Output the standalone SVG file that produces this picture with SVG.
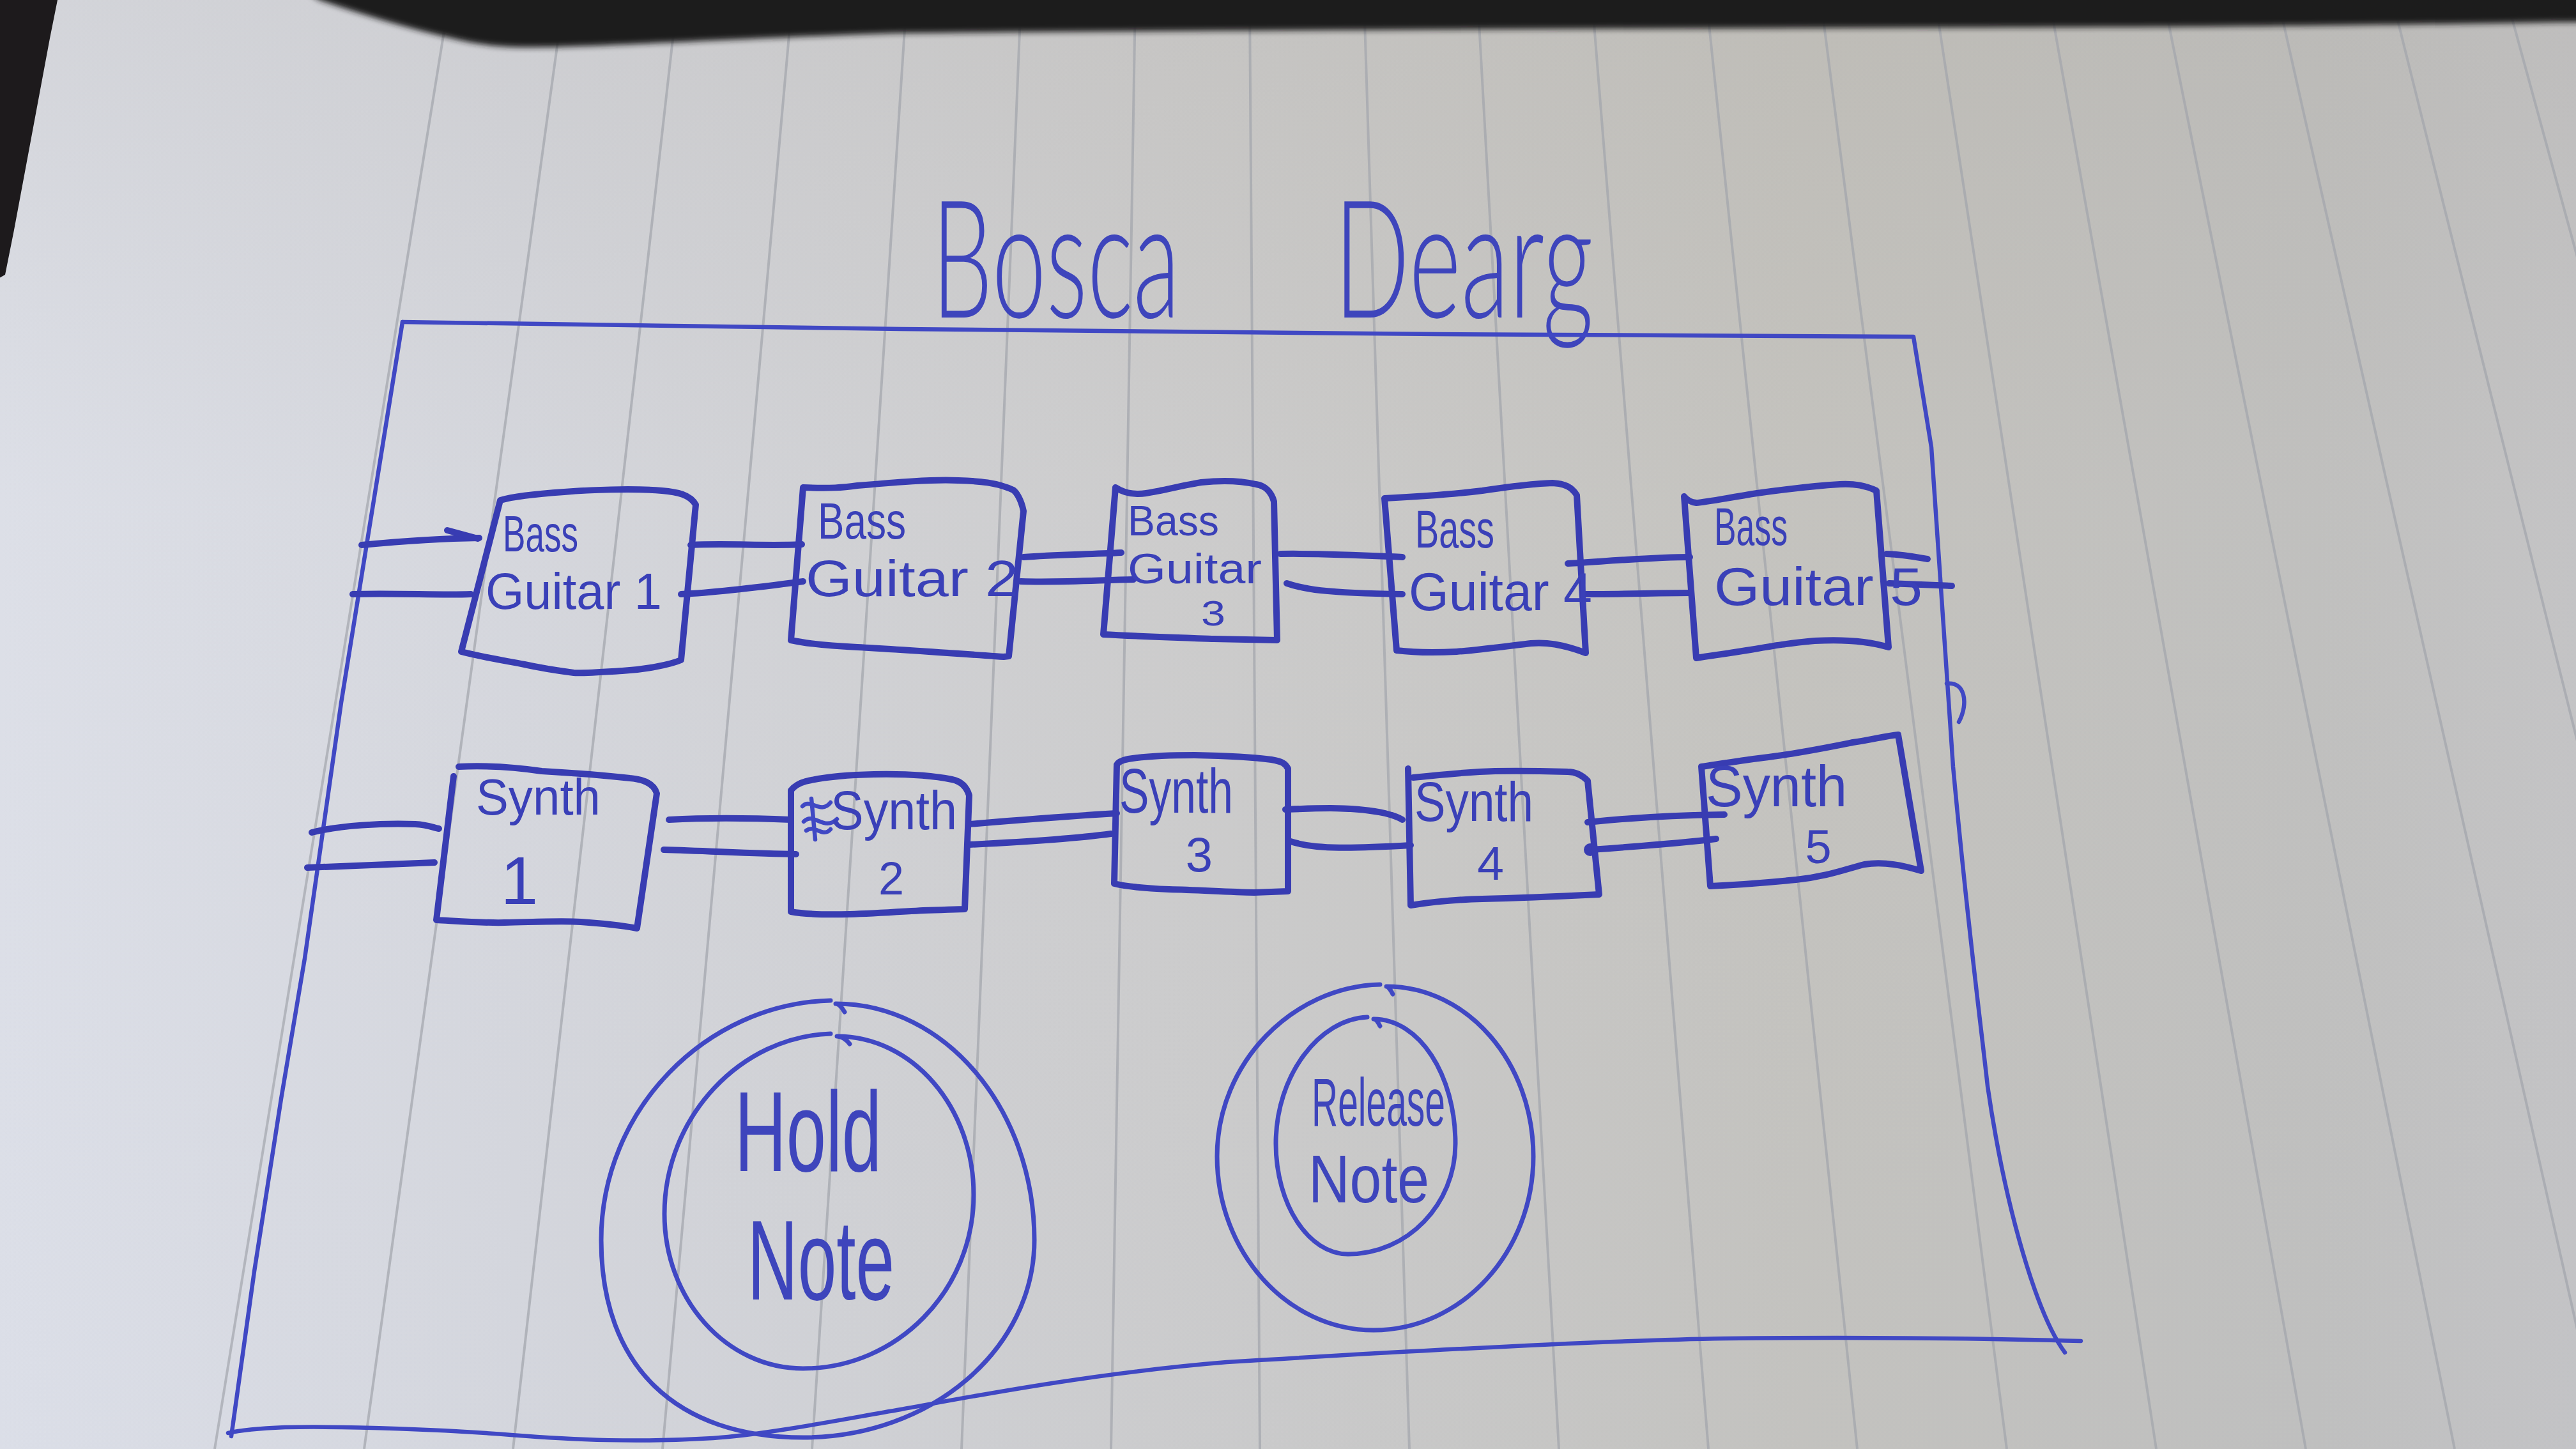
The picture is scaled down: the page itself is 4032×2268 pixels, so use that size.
<svg xmlns="http://www.w3.org/2000/svg" width="4032" height="2268" viewBox="0 0 4032 2268">
  <defs>
    <linearGradient id="paper" x1="0" y1="0" x2="1" y2="0">
      <stop offset="0" stop-color="#e0e3ec"/>
      <stop offset="0.2" stop-color="#d8dae1"/>
      <stop offset="0.45" stop-color="#cfcfd0"/>
      <stop offset="0.7" stop-color="#c6c5c1"/>
      <stop offset="0.9" stop-color="#c2c2c1"/>
      <stop offset="1" stop-color="#c6c6c8"/>
    </linearGradient>
    <linearGradient id="paperShade" x1="0" y1="0" x2="0" y2="1">
      <stop offset="0" stop-color="#9c968a" stop-opacity="0.18"/>
      <stop offset="0.35" stop-color="#9c968a" stop-opacity="0.05"/>
      <stop offset="1" stop-color="#8f94a0" stop-opacity="0.06"/>
    </linearGradient>
    <filter id="soft" x="-5%" y="-50%" width="110%" height="200%">
      <feGaussianBlur stdDeviation="5"/>
    </filter>
    <style>
      .rule { stroke: #a2a5ac; stroke-width: 4; opacity: 0.7; fill: none; }
      .box  { fill: none; stroke: #383cb2; stroke-width: 10; stroke-linecap: round; stroke-linejoin: round; }
      .wire { fill: none; stroke: #383cb2; stroke-width: 10; stroke-linecap: round; stroke-linejoin: round; }
      .pen  { fill: none; stroke: #4048c4; stroke-width: 6.5; stroke-linecap: round; stroke-linejoin: round; }
      .ring { fill: none; stroke: #4048c4; stroke-width: 7; stroke-linecap: round; stroke-linejoin: round; }
      .lbl  { fill: #3a40b8; font-family: "Liberation Sans", Arial, sans-serif; font-weight: 400; }
      .big  { fill: #3e45bc; font-family: "Liberation Sans", Arial, sans-serif; font-weight: 400; }
      .head { fill: #3e45bc; font-family: Lato, "Liberation Sans", sans-serif; font-weight: 300; }
    </style>
  </defs>

  <!-- paper sheet -->
  <rect x="0" y="0" width="4032" height="2268" fill="url(#paper)"/>
  <rect x="0" y="0" width="4032" height="2268" fill="url(#paperShade)"/>

  <!-- ruled lines, converging slightly towards the top -->
  <g id="ruling" class="rule">
    <line x1="703" y1="0" x2="336" y2="2268"/>
    <line x1="882" y1="0" x2="570" y2="2268"/>
    <line x1="1060" y1="0" x2="803" y2="2268"/>
    <line x1="1240" y1="0" x2="1037" y2="2268"/>
    <line x1="1419" y1="0" x2="1271" y2="2268"/>
    <line x1="1598" y1="0" x2="1505" y2="2268"/>
    <line x1="1777" y1="0" x2="1739" y2="2268"/>
    <line x1="1956" y1="0" x2="1972" y2="2268"/>
    <line x1="2135" y1="0" x2="2206" y2="2268"/>
    <line x1="2313" y1="0" x2="2440" y2="2268"/>
    <line x1="2492" y1="0" x2="2674" y2="2268"/>
    <line x1="2671" y1="0" x2="2907" y2="2268"/>
    <line x1="2850" y1="0" x2="3141" y2="2268"/>
    <line x1="3029" y1="0" x2="3375" y2="2268"/>
    <line x1="3208" y1="0" x2="3609" y2="2268"/>
    <line x1="3387" y1="0" x2="3842" y2="2268"/>
    <line x1="3566" y1="0" x2="4076" y2="2268"/>
    <line x1="3745" y1="0" x2="4310" y2="2268"/>
    <line x1="3924" y1="0" x2="4544" y2="2268"/>
  </g>

  <!-- desk showing past the paper edges -->
  <g id="desk" fill="#1d1a1c">
    <path filter="url(#soft)" d="M470,-20 L500,0 C560,20 640,45 700,58 C740,68 770,74 830,74 C950,73 1150,60 1400,52 C2000,46 2800,44 3400,42 C3700,40 3900,36 4060,34 L4060,-20 Z"/>
    <path d="M-10,-10 L92,-10 L78,60 L50,210 L22,360 L8,430 L-10,440 Z"/>
  </g>

  <!-- title, underlined by the top edge of the panel -->
  <g id="title">
    <text class="head" y="497" font-size="257"><tspan x="1458" textLength="389" lengthAdjust="spacingAndGlyphs">Bosca</tspan> <tspan x="2088" textLength="406" lengthAdjust="spacingAndGlyphs">Dearg</tspan></text>
  </g>

  <!-- panel outline -->
  <g id="panel" class="pen">
    <path d="M630,504 C1100,512 1800,520 2250,523 C2600,525 2850,526 2995,527 L3023,700 L3057,1200 C3080,1450 3100,1600 3111,1700 C3140,1900 3190,2060 3232,2117"/>
    <path d="M3257,2099 C3100,2094 2874,2093 2700,2095 C2500,2098 2200,2115 1920,2132 C1700,2150 1500,2190 1410,2206 C1300,2225 1200,2245 1116,2251 C1000,2258 900,2254 800,2246 C700,2238 550,2232 446,2234 C400,2236 370,2240 357,2243"/>
    <path d="M630,504 L534,1100 L477,1500 L440,1720 L398,1990 L362,2248"/>
    <path d="M3047,1070 C3075,1066 3082,1100 3066,1130"/>
  </g>

  <!-- signal wires between the units -->
  <g id="connectors" class="wire">
    <path d="M566,853 C620,848 680,843 750,842"/>
    <path d="M700,830 L748,843"/>
    <path d="M552,930 C620,928 690,932 737,930"/>
    <path d="M1081,853 C1140,850 1200,855 1255,852"/>
    <path d="M1066,930 C1110,928 1160,923 1257,910"/>
    <path d="M1602,872 C1650,868 1700,868 1755,865"/>
    <path d="M1598,910 C1660,912 1720,908 1774,907"/>
    <path d="M2004,867 C2080,866 2150,870 2195,872"/>
    <path d="M2014,913 C2040,922 2070,928 2195,930"/>
    <path d="M2454,882 C2520,878 2590,872 2645,872"/>
    <path d="M2482,930 C2540,930 2600,928 2645,928"/>
    <path d="M2953,867 C2980,868 3000,872 3017,875"/>
    <path d="M2957,913 C3000,915 3030,916 3055,917"/>

    <path d="M488,1303 C530,1292 600,1288 650,1290 C670,1291 680,1296 687,1297"/>
    <path d="M481,1358 C560,1355 620,1352 680,1350"/>
    <path d="M1047,1283 C1100,1280 1170,1280 1238,1283"/>
    <path d="M1039,1330 C1110,1332 1180,1336 1246,1337"/>
    <path d="M1517,1290 C1600,1283 1680,1277 1748,1273"/>
    <path d="M1517,1322 C1600,1318 1680,1313 1739,1305"/>
    <path d="M2012,1267 C2060,1265 2120,1262 2168,1273 C2180,1276 2190,1280 2195,1283"/>
    <path d="M2020,1317 C2060,1330 2120,1328 2208,1323"/>
    <path d="M2485,1287 C2550,1280 2620,1276 2699,1275"/>
    <path d="M2489,1330 C2560,1325 2630,1320 2686,1313"/>
    <circle cx="2489" cy="1330" r="10" fill="#383cb2" stroke="none"/>
  </g>

  <!-- bass guitar row -->
  <g id="bass-guitar-1">
    <path class="box" d="M783,783 C800,778 840,773 883,770 C920,767 990,764 1036,768 C1060,770 1080,774 1089,790 L1066,1033 C1050,1040 1010,1048 974,1050 C940,1052 910,1054 898,1053 C860,1048 830,1042 821,1040 C790,1034 752,1028 722,1020 L783,783 Z"/>
    <text class="lbl" font-size="79"><tspan x="787" y="863" textLength="118" lengthAdjust="spacingAndGlyphs">Bass</tspan>
      <tspan x="760" y="953" textLength="276" lengthAdjust="spacingAndGlyphs">Guitar 1</tspan></text>
  </g>
  <g id="bass-guitar-2">
    <path class="box" d="M1257,763 L1238,1002 C1265,1008 1300,1011 1342,1013 C1400,1016 1456,1020 1571,1028 L1579,1027 L1602,800 C1598,780 1590,770 1586,767 C1560,755 1533,753 1500,752 C1460,750 1400,755 1342,760 C1320,763 1300,765 1257,763 Z"/>
    <text class="lbl" font-size="80"><tspan x="1280" y="843" textLength="138" lengthAdjust="spacingAndGlyphs">Bass</tspan>
      <tspan x="1261" y="933" textLength="333" lengthAdjust="spacingAndGlyphs">Guitar 2</tspan></text>
  </g>
  <g id="bass-guitar-3">
    <path class="box" d="M1746,763 L1727,993 C1780,996 1841,998 1900,1000 L1999,1002 L1994,785 C1990,770 1980,760 1966,758 C1940,752 1908,752 1880,755 C1850,760 1820,768 1794,772 C1775,775 1760,772 1746,763 Z"/>
    <text class="lbl" font-size="66"><tspan x="1765" y="838" textLength="143" lengthAdjust="spacingAndGlyphs">Bass</tspan>
      <tspan x="1765" y="913" textLength="210" lengthAdjust="spacingAndGlyphs">Guitar</tspan>
      <tspan x="1880" y="979" font-size="55" textLength="38" lengthAdjust="spacingAndGlyphs">3</tspan></text>
  </g>
  <g id="bass-guitar-4">
    <path class="box" d="M2167,780 L2186,1018 C2210,1021 2243,1022 2280,1020 C2320,1017 2370,1010 2396,1007 C2420,1005 2444,1008 2482,1022 L2468,775 C2460,762 2449,757 2430,756 C2400,757 2360,762 2320,768 C2280,773 2224,777 2167,780 Z"/>
    <text class="lbl" font-size="83"><tspan x="2215" y="857" textLength="124" lengthAdjust="spacingAndGlyphs">Bass</tspan>
      <tspan x="2205" y="955" textLength="287" lengthAdjust="spacingAndGlyphs">Guitar 4</tspan></text>
  </g>
  <g id="bass-guitar-5">
    <path class="box" d="M2636,777 L2655,1030 C2680,1026 2703,1023 2740,1017 C2780,1010 2798,1007 2840,1003 C2894,1000 2930,1005 2956,1013 L2937,768 C2920,760 2904,757 2880,758 C2846,760 2800,765 2750,772 C2700,780 2670,786 2655,787 C2645,786 2640,782 2636,777 Z"/>
    <text class="lbl" font-size="83"><tspan x="2683" y="853" textLength="115" lengthAdjust="spacingAndGlyphs">Bass</tspan>
      <tspan x="2683" y="947" textLength="326" lengthAdjust="spacingAndGlyphs">Guitar 5</tspan></text>
  </g>

  <!-- synth row -->
  <g id="synth-1">
    <path class="box" d="M710,1215 L683,1440 C720,1442 760,1445 790,1444 C840,1443 880,1441 909,1443 C940,1445 970,1448 997,1453 L1028,1242 C1024,1228 1010,1220 986,1218 C950,1214 900,1210 848,1207 C800,1200 760,1198 718,1200"/>
    <text class="lbl" font-size="80"><tspan x="745" y="1275" textLength="195" lengthAdjust="spacingAndGlyphs">Synth</tspan>
      <tspan x="813" y="1415" font-size="105" text-anchor="middle">1</tspan></text>
  </g>
  <g id="synth-2">
    <path class="box" d="M1238,1237 L1238,1427 C1260,1431 1292,1432 1330,1431 C1368,1430 1410,1427 1445,1425 C1480,1424 1500,1423 1510,1423 L1517,1245 C1512,1228 1500,1222 1490,1220 C1460,1214 1420,1211 1368,1212 C1320,1213 1290,1216 1261,1223 C1250,1226 1242,1232 1238,1237 Z"/>
    <path class="pen" stroke-width="5" d="M1256,1262 C1268,1248 1284,1276 1300,1256 M1258,1286 C1274,1270 1290,1302 1310,1282 M1270,1250 L1276,1314 M1262,1300 C1276,1290 1288,1312 1300,1298"/>
    <text class="lbl" font-size="85"><tspan x="1300" y="1298" textLength="198" lengthAdjust="spacingAndGlyphs">Synth</tspan>
      <tspan x="1395" y="1400" font-size="72" text-anchor="middle">2</tspan></text>
  </g>
  <g id="synth-3">
    <path class="box" d="M1748,1197 L1744,1383 C1760,1387 1784,1390 1830,1392 C1873,1393 1920,1396 1963,1397 L2016,1395 L2016,1203 C2012,1195 2007,1192 1990,1189 C1960,1185 1920,1183 1870,1182 C1830,1182 1790,1184 1766,1188 C1756,1190 1750,1193 1748,1197 Z"/>
    <text class="lbl" font-size="98"><tspan x="1752" y="1272" textLength="178" lengthAdjust="spacingAndGlyphs">Synth</tspan>
      <tspan x="1877" y="1364" font-size="76" text-anchor="middle">3</tspan></text>
  </g>
  <g id="synth-4">
    <path class="box" d="M2204,1203 L2208,1417 C2240,1412 2275,1408 2320,1407 C2364,1406 2440,1403 2503,1400 L2485,1222 C2475,1212 2465,1208 2454,1208 C2420,1207 2380,1206 2340,1207 C2300,1208 2260,1212 2212,1217"/>
    <text class="lbl" font-size="88"><tspan x="2214" y="1285" textLength="186" lengthAdjust="spacingAndGlyphs">Synth</tspan>
      <tspan x="2333" y="1377" font-size="75" text-anchor="middle">4</tspan></text>
  </g>
  <g id="synth-5">
    <path class="box" d="M2663,1200 L2677,1387 C2720,1385 2760,1382 2811,1377 C2860,1372 2890,1360 2918,1353 C2950,1348 2980,1355 3007,1363 L2971,1150 C2950,1152 2930,1158 2900,1162 C2860,1170 2811,1180 2760,1186 C2720,1191 2690,1196 2663,1200 Z"/>
    <text class="lbl" font-size="90"><tspan x="2670" y="1262" textLength="221" lengthAdjust="spacingAndGlyphs">Synth</tspan>
      <tspan x="2846" y="1351" font-size="74" text-anchor="middle">5</tspan></text>
  </g>

  <!-- note buttons -->
  <g id="hold-note">
    <path class="ring" d="M1322,1584 C1316,1574 1312,1571 1308,1571 C1480,1571 1619,1737 1619,1941 C1619,2112 1457,2250 1257,2250 C1060,2250 941,2140 941,1941 C941,1737 1105,1571 1300,1566"/>
    <path class="ring" d="M1330,1634 C1322,1624 1316,1622 1310,1622 C1428,1622 1524,1733 1524,1870 C1524,2020 1404,2142 1257,2142 C1137,2142 1040,2034 1040,1900 C1040,1747 1161,1622 1300,1618"/>
    <text class="big" font-size="178"><tspan x="1150" y="1833" textLength="230" lengthAdjust="spacingAndGlyphs">Hold</tspan>
      <tspan x="1170" y="2034" textLength="230" lengthAdjust="spacingAndGlyphs">Note</tspan></text>
  </g>
  <g id="release-note">
    <path class="ring" d="M2180,1556 C2176,1548 2172,1544 2170,1544 C2297,1544 2400,1663 2400,1810 C2400,1960 2288,2082 2150,2082 C2015,2082 1905,1960 1905,1810 C1905,1663 2024,1544 2160,1541"/>
    <path class="ring" d="M2160,1606 C2156,1598 2153,1595 2150,1595 C2221,1595 2278,1682 2278,1790 C2278,1885 2203,1963 2110,1963 C2048,1963 1997,1885 1997,1790 C1997,1682 2066,1595 2140,1592"/>
    <text class="big" font-size="106"><tspan x="2053" y="1762" textLength="209" lengthAdjust="spacingAndGlyphs">Release</tspan>
      <tspan x="2048" y="1882" textLength="189" lengthAdjust="spacingAndGlyphs">Note</tspan></text>
  </g>
</svg>
